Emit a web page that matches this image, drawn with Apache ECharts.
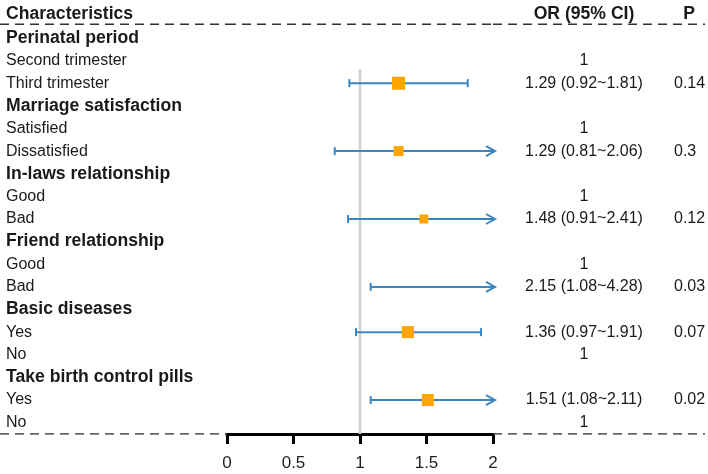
<!DOCTYPE html>
<html>
<head>
<meta charset="utf-8">
<script src="https://cdn.jsdelivr.net/npm/echarts@6/dist/echarts.min.js"></script>
<style>html,body{margin:0;padding:0;background:#fff}#c{width:708px;height:474px}</style>
</head>
<body>
<div id="c"></div>
<script>
// ---- data ----
const rowLabels = ['Perinatal period','Second trimester','Third trimester','Marriage satisfaction','Satisfied','Dissatisfied','In-laws relationship','Good','Bad','Friend relationship','Good','Bad','Basic diseases','Yes','No','Take birth control pills','Yes','No'];
const isGroupRow = [1,0,0,1,0,0,1,0,0,1,0,0,1,0,0,1,0,0];
const orEst  = [null,null,1.29,null,null,1.29,null,null,1.48,null,null,2.15,null,1.36,null,null,1.51,null];
const ciLow  = [null,null,0.92,null,null,0.81,null,null,0.91,null,null,1.08,null,0.97,null,null,1.08,null];
const ciHigh = [null,null,1.81,null,null,2.06,null,null,2.41,null,null,4.28,null,1.91,null,null,2.11,null];
const boxWeight = [null,null,13,null,null,10,null,null,9,null,null,10,null,12,null,null,12,null];
const orLabels = ['','1','1.29 (0.92~1.81)','','1','1.29 (0.81~2.06)','','1','1.48 (0.91~2.41)','','1','2.15 (1.08~4.28)','','1.36 (0.97~1.91)','1','','1.51 (1.08~2.11)','1'];
const pLabels = ['','','0.14','','','0.3','','','0.12','','','0.03','','0.07','','','0.02',''];
const headerLabels = ['Characteristics','OR (95% CI)','P'];
const xTicks = [0, 0.5, 1, 1.5, 2];
const refValue = 1;

// ---- layout ----
const FONT = '"Liberation Sans", Arial, Helvetica, sans-serif';
const TXT = '#1a1a1a';
const CI_COLOR = '#3a86c1';
const BOX_COLOR = '#ffa500';
const headerRow = -1.05;
const topLineRow = -0.6;
const yMin = -1.5, yMax = 17.5;
const xMin = xTicks[0], xMax = xTicks[xTicks.length - 1];

const chart = echarts.init(document.getElementById('c'), null, {renderer: 'canvas'});

const rows = rowLabels.map((_, i) => i);
function yAxisDef(idx) {
  return {gridIndex: idx, type: 'value', min: yMin, max: yMax, inverse: true, show: false};
}
function dashLine(gridIdx, x0, x1, row) {
  return {
    type: 'line', xAxisIndex: gridIdx, yAxisIndex: gridIdx, silent: true, symbol: 'none',
    data: [[x0, row], [x1, row]],
    lineStyle: {color: '#333', width: 1.5, type: [9, 6]}, z: 1
  };
}
function textSeries(gridIdx, items) {
  // items: [xValue, row, text, bold, align]
  return {
    type: 'custom', xAxisIndex: gridIdx, yAxisIndex: gridIdx, silent: true, clip: false,
    data: items.map(d => [d[0], d[1]]),
    renderItem: function (params, api) {
      const it = items[params.dataIndex];
      const p = api.coord([it[0], it[1]]);
      return {
        type: 'text', x: p[0], y: p[1],
        style: {
          text: it[2], fill: TXT,
          font: (it[3] ? 'bold 17.6px ' : '16px ') + FONT,
          align: it[4], verticalAlign: 'middle',
          textAlign: it[4], textVerticalAlign: 'middle'
        }
      };
    }
  };
}

const leftItems = [[6, headerRow, headerLabels[0], true, 'left']].concat(
  rows.map(i => [6, i, rowLabels[i], !!isGroupRow[i], 'left']));
const rightItems = [[91, headerRow, headerLabels[1], true, 'center'], [196, headerRow, headerLabels[2], true, 'center']]
  .concat(rows.filter(i => orLabels[i]).map(i => [91, i, orLabels[i], false, 'center']))
  .concat(rows.filter(i => pLabels[i]).map(i => [181, i, pLabels[i], false, 'left']));

const ciRows = rows.filter(i => orEst[i] !== null);

const option = {
  animation: false,
  backgroundColor: '#fff',
  grid: [
    {left: 0, top: 4, width: 227, height: 430},
    {left: 227, top: 4, width: 266, height: 430},
    {left: 493, top: 4, width: 215, height: 430}
  ],
  xAxis: [
    {gridIndex: 0, type: 'value', min: 0, max: 227, show: false},
    {gridIndex: 1, type: 'value', min: xMin, max: xMax, interval: 0.5, position: 'bottom',
      axisLine: {show: true, onZero: false, lineStyle: {color: '#000', width: 3}},
      axisTick: {show: true, length: 10, lineStyle: {color: '#000', width: 3}},
      axisLabel: {show: true, color: '#222', fontSize: 17, fontFamily: FONT, margin: 21,
        formatter: v => String(v)},
      splitLine: {show: false}},
    {gridIndex: 2, type: 'value', min: 0, max: 215, show: false}
  ],
  yAxis: [yAxisDef(0), yAxisDef(1), yAxisDef(2)],
  series: [
    dashLine(0, 0, 227, topLineRow),
    dashLine(1, xMin, xMax, topLineRow),
    dashLine(2, 0, 212, topLineRow),
    dashLine(0, 0, 227, yMax),
    dashLine(2, 0, 212, yMax),
    textSeries(0, leftItems),
    textSeries(2, rightItems),
    {
      // reference line at OR = 1
      type: 'line', xAxisIndex: 1, yAxisIndex: 1, silent: true, symbol: 'none',
      data: [[refValue, 1.37], [refValue, yMax]],
      lineStyle: {color: '#d0d0d0', width: 2.5}, z: 2
    },
    {
      type: 'custom', xAxisIndex: 1, yAxisIndex: 1, silent: true, clip: false, z: 3,
      data: ciRows.map(i => [ciLow[i], i, ciHigh[i]]),
      renderItem: function (params, api) {
        const lo = api.value(0), row = api.value(1), hi = api.value(2);
        const arrowRight = hi > xMax;
        const pL = api.coord([Math.max(lo, xMin), row]);
        const pR = api.coord([Math.min(hi, xMax), row]);
        const tipX = arrowRight ? pR[0] + 2 : pR[0];
        const ls = {stroke: CI_COLOR, lineWidth: 2, fill: null};
        const children = [
          {type: 'line', shape: {x1: pL[0], y1: pL[1], x2: tipX, y2: pR[1]}, style: ls},
          {type: 'line', shape: {x1: pL[0], y1: pL[1] - 4, x2: pL[0], y2: pL[1] + 4}, style: ls}
        ];
        if (arrowRight) {
          children.push({type: 'polyline', shape: {points: [[tipX - 9, pR[1] - 5], [tipX, pR[1]], [tipX - 9, pR[1] + 5]]}, style: ls});
        } else {
          children.push({type: 'line', shape: {x1: pR[0], y1: pR[1] - 4, x2: pR[0], y2: pR[1] + 4}, style: ls});
        }
        return {type: 'group', children: children};
      }
    },
    {
      type: 'scatter', xAxisIndex: 1, yAxisIndex: 1, silent: true, clip: true, z: 4,
      symbol: 'rect',
      data: ciRows.map(i => ({value: [orEst[i], i], symbolSize: boxWeight[i]})),
      itemStyle: {color: BOX_COLOR, opacity: 1}
    }
  ]
};
chart.setOption(option);
</script>
</body>
</html>
